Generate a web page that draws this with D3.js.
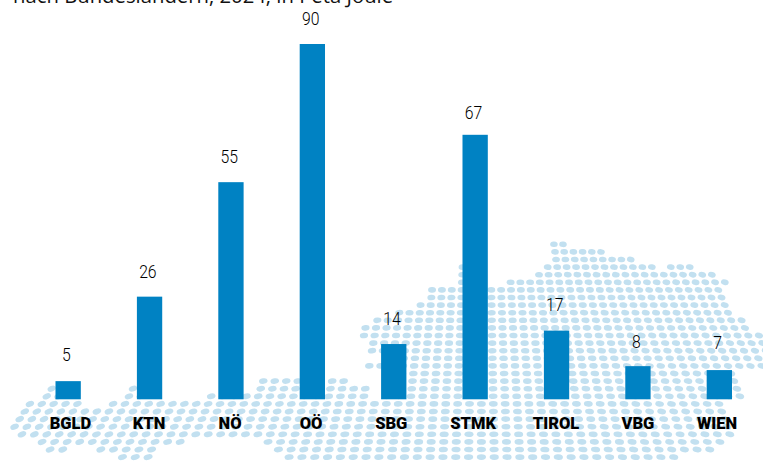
<!DOCTYPE html>
<html>
<head>
<meta charset="utf-8">
<script src="https://cdn.jsdelivr.net/npm/d3@7"></script>
<style>
  html, body { margin: 0; padding: 0; background: #fff; overflow: hidden; }
  svg { display: block; }
</style>
</head>
<body>
<div id="chart"></div>
<script>
const states = ['BGLD', 'KTN', 'NÖ', 'OÖ', 'SBG', 'STMK', 'TIROL', 'VBG', 'WIEN']
const petaJoule = [4.6, 26, 55, 90, 14, 67, 17.4, 8.4, 7.4]
const subtitle = 'nach Bundesländern, 2024, in Peta Joule'

// dot map of Austria as grid cells: row, first column, last column
const mapRows = [
  [0, 8, 9],
  [1, 8, 13],
  [2, 8, 16],
  [3, -2, -1], [3, 7, 18], [3, 20, 22],
  [4, -2, -1], [4, 6, 24],
  [5, -2, -1], [5, 3, 25],
  [6, -5, 24],
  [7, -5, 24],
  [8, -6, 24],
  [9, -8, 24],
  [10, -10, 25],
  [11, -11, 25],
  [12, -11, 26],
  [13, -10, 26],
  [14, -10, 26],
  [15, -8, 25],
  [16, -10, 25],
  [17, -8, 22],
  [18, -19, -12], [18, -8, 22],
  [19, -37, -36], [19, -30, -29], [19, -19, -10], [19, -8, 22],
  [20, -37, -36], [20, -30, -29], [20, -23, -10], [20, -8, 22],
  [21, -38, -34], [21, -31, 20],
  [22, -38, 20],
  [23, -38, 20],
  [24, -38, 20],
  [25, -37, 20],
  [26, -35, -24], [26, -17, 19],
  [27, -34, -33], [27, -30, -26], [27, -16, 18],
  [28, -28, -26], [28, -15, 15]
]

const width = 763
const height = 461
const baseline = 399.3

// labels in the original are hand placed, not centred on the bars
const stateNudge = [2.3, -0.5, -0.9, -1.3, -2.5, -2, -0.5, 0, -2.3]
const valueNudge = [-1.8, -0.5, -1, -1, -1, 3, -1, 0, -2.5]

const svg = d3.select('#chart')
  .append('svg')
  .attr('width', width)
  .attr('height', height)

// the map is drawn in perspective, so columns get wider towards the bottom
const rowY = d3.scaleLinear().domain([0, 28]).range([244.3, 457.1])
const colStep = d3.scaleLinear().domain([1, 28]).range([9.2, 12.82])
const vanishX = 481.4
const dotWidth = d3.scaleLinear().domain([0, 28]).range([3.8, 4.6])

const dots = []
mapRows.forEach(function(seg) {
  d3.range(seg[1], seg[2] + 1).forEach(function(col) {
    dots.push({ row: seg[0], col: col })
  })
})

svg.append('g')
  .selectAll('ellipse')
  .data(dots)
  .enter()
  .append('ellipse')
    .attr('rx', function(d) { return dotWidth(d.row) })
    .attr('ry', 2.8)
    .attr('fill', '#c2e0f0')
    .attr('transform', function(d) {
      const x = vanishX + d.col * colStep(d.row)
      return `translate(${x}, ${rowY(d.row)}) rotate(${d.col * 0.6})`
    })

const xScale = d3.scaleBand()
  .domain(states)
  .range([55.5, 732])
  .paddingInner(0.689)

const yScale = d3.scaleLinear()
  .domain([0, 90])
  .range([baseline, 44])

svg.append('g')
  .selectAll('rect')
  .data(states)
  .enter()
  .append('rect')
    .attr('x', function(d) { return xScale(d) })
    .attr('y', function(d, i) { return yScale(petaJoule[i]) })
    .attr('width', xScale.bandwidth())
    .attr('height', function(d, i) { return baseline - yScale(petaJoule[i]) })
    .attr('fill', '#0082c3')

// value labels, squeezed a little since no DIN font is around
svg.append('g')
  .selectAll('text')
  .data(states)
  .enter()
  .append('text')
    .attr('transform', function(d, i) {
      const x = xScale(d) + xScale.bandwidth() / 2 - 1.7
      const y = yScale(petaJoule[i]) - 18.3 + valueNudge[i]
      return `translate(${x}, ${y}) scale(0.9, 1)`
    })
    .attr('text-anchor', 'middle')
    .style('font-family', 'Roboto, sans-serif')
    .style('font-weight', 300)
    .style('font-size', '17.5px')
    .style('fill', '#000')
    .text(function(d, i) { return d3.format('.0f')(petaJoule[i]) })

// state labels
svg.append('g')
  .selectAll('text')
  .data(states)
  .enter()
  .append('text')
    .attr('x', function(d, i) { return xScale(d) + xScale.bandwidth() / 2 + stateNudge[i] })
    .attr('y', 429.3)
    .attr('text-anchor', 'middle')
    .style('font-family', 'Roboto, sans-serif')
    .style('font-weight', 900)
    .style('font-size', '16.5px')
    .style('fill', '#000')
    .text(function(d) { return d })

// subtitle is cut off by the top of the picture
svg.append('text')
  .attr('x', 13)
  .attr('y', 2.5)
  .style('font-family', '"Open Sans", sans-serif')
  .style('font-size', '20.3px')
  .style('fill', '#111')
  .text(subtitle)
</script>
</body>
</html>
